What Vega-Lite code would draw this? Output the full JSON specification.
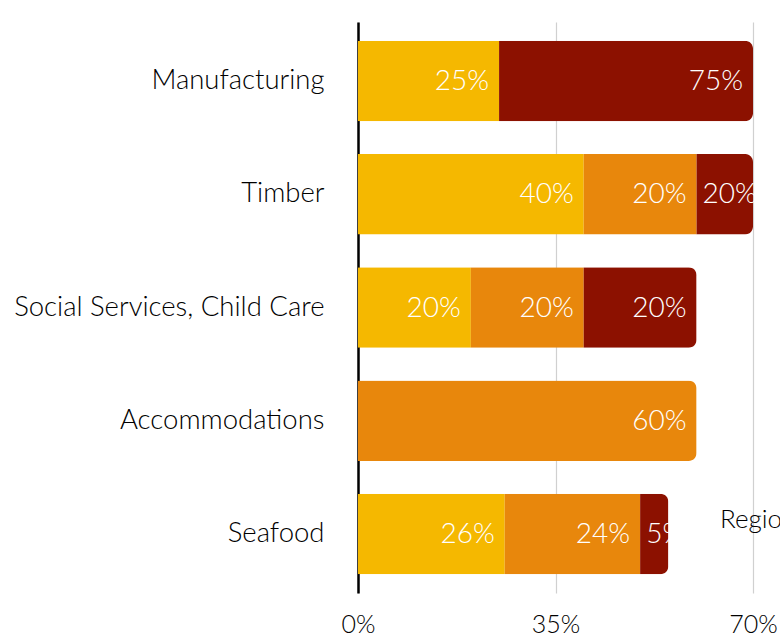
{
  "$schema": "https://vega.github.io/schema/vega-lite/v6.json",
  "width": 395,
  "height": 571,
  "autosize": {"type": "none"},
  "padding": {"left": 358, "top": 22, "right": 27, "bottom": 44},
  "background": "white",
  "config": {"font": "Lato", "view": {"stroke": null}},
  "data": {
    "values": [
      {"sector": "Manufacturing", "region": "Region 1", "share": 0.25},
      {"sector": "Manufacturing", "region": "Region 3", "share": 0.75},
      {"sector": "Timber", "region": "Region 1", "share": 0.40},
      {"sector": "Timber", "region": "Region 2", "share": 0.20},
      {"sector": "Timber", "region": "Region 3", "share": 0.20},
      {"sector": "Social Services, Child Care", "region": "Region 1", "share": 0.20},
      {"sector": "Social Services, Child Care", "region": "Region 2", "share": 0.20},
      {"sector": "Social Services, Child Care", "region": "Region 3", "share": 0.20},
      {"sector": "Accommodations", "region": "Region 2", "share": 0.60},
      {"sector": "Seafood", "region": "Region 1", "share": 0.26},
      {"sector": "Seafood", "region": "Region 2", "share": 0.24},
      {"sector": "Seafood", "region": "Region 3", "share": 0.05}
    ]
  },
  "encoding": {
    "y": {
      "field": "sector",
      "type": "nominal",
      "sort": ["Manufacturing", "Timber", "Social Services, Child Care", "Accommodations", "Seafood"],
      "title": null,
      "scale": {"paddingInner": 0.29, "paddingOuter": 0.165},
      "axis": {
        "domainColor": "#000000",
        "domainWidth": 2.5,
        "ticks": false,
        "labelFontSize": 27.5,
        "labelFontWeight": 300,
        "labelLimit": 0,
        "labelPadding": 34,
        "labelColor": "#000000",
        "grid": false
      }
    }
  },
  "layer": [
    {
      "mark": {"type": "bar", "cornerRadiusEnd": 8},
      "encoding": {
        "x": {
          "field": "share",
          "type": "quantitative",
          "stack": "zero",
          "title": null,
          "scale": {"domain": [0, 0.7], "clamp": true, "nice": false},
          "axis": {
            "values": [0, 0.35, 0.7],
            "format": ".0%",
            "labelFontSize": 25,
            "labelFontWeight": 300,
            "labelColor": "#000000",
            "labelPadding": 19,
            "labelFlush": false,
            "ticks": false,
            "domain": false,
            "grid": true,
            "gridColor": "#d0d0d0",
            "gridWidth": 1.2
          }
        },
        "color": {
          "field": "region",
          "type": "nominal",
          "scale": {"domain": ["Region 1", "Region 2", "Region 3"], "range": ["#F5B800", "#E8870C", "#8C1100"]},
          "legend": {
            "title": "Region",
            "orient": "none",
            "legendX": 362,
            "legendY": 488,
            "direction": "horizontal",
            "titleOrient": "left",
            "titleFontSize": 26,
            "titleFontWeight": 300,
            "titleColor": "#000000",
            "labelFontSize": 20
          }
        }
      }
    },
    {
      "transform": [
        {"stack": "share", "groupby": ["sector"], "sort": [{"field": "region", "order": "ascending"}], "as": ["x0", "x1"]},
        {"filter": "min(datum.x1, 0.7) - datum.x0 >= 0.12"}
      ],
      "mark": {"type": "text", "align": "right", "baseline": "middle", "dx": -10, "dy": 1, "fontSize": 28, "fontWeight": 300, "color": "#ffffff"},
      "encoding": {
        "x": {"field": "x1", "type": "quantitative", "title": null},
        "text": {"field": "share", "type": "quantitative", "format": ".0%"}
      }
    },
    {
      "transform": [
        {"stack": "share", "groupby": ["sector"], "sort": [{"field": "region", "order": "ascending"}], "as": ["x0", "x1"]},
        {"filter": "min(datum.x1, 0.7) - datum.x0 < 0.12"}
      ],
      "mark": {"type": "text", "align": "left", "baseline": "middle", "dx": 6, "dy": 1, "fontSize": 28, "fontWeight": 300, "color": "#ffffff"},
      "encoding": {
        "x": {"field": "x0", "type": "quantitative", "title": null},
        "text": {"field": "share", "type": "quantitative", "format": ".0%"}
      }
    }
  ]
}
